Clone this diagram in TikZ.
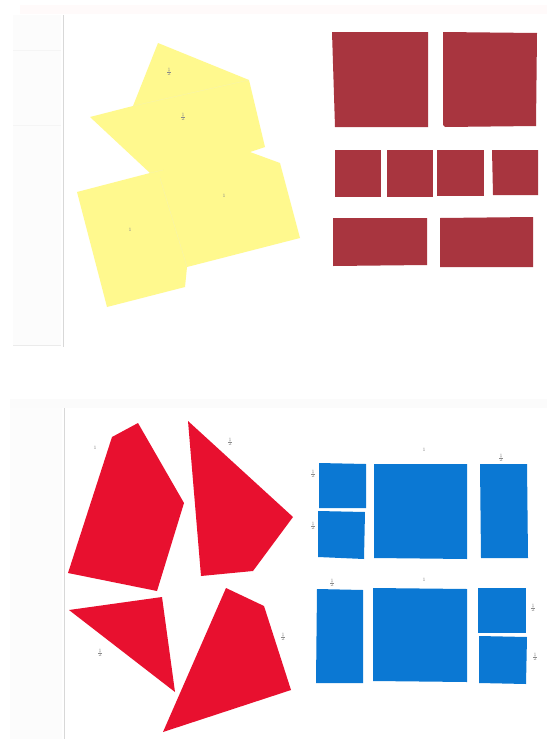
\documentclass[tikz,border=0pt]{standalone}
\definecolor{paperY}{HTML}{FFF98E}
\definecolor{maroon}{HTML}{A8353F}
\definecolor{brightred}{HTML}{E8102F}
\definecolor{paperB}{HTML}{0B78D3}
\definecolor{edge}{HTML}{D8D8D8}
\definecolor{hand}{HTML}{8A8A8A}
\begin{document}
\begin{tikzpicture}[x=1pt,y=-1pt,
  lbl/.style={text=hand,font=\fontsize{5}{6}\selectfont,inner sep=0pt},
  yel/.style={fill=paperY,draw=none},
  crease/.style={draw=paperY!85!black!40!white,line width=0.4pt,opacity=0.5},
  mar/.style={fill=maroon,draw=none},
  rd/.style={fill=brightred,draw=none},
  bl/.style={fill=paperB,draw=none}]
\useasboundingbox (0,0) rectangle (547,739);
\fill[white] (0,0) rectangle (547,739);
% ---- sheets ----
\fill[red!2] (20,5) rectangle (547,14);
\fill[black!1] (13,15) rectangle (61,345);
\draw[edge,line width=0.8pt] (63,15) -- (63,347);
\draw[black!8,line width=0.5pt] (13,345) -- (61,345);
\draw[black!4,line width=0.4pt] (13,50) -- (61,50);
\draw[black!4,line width=0.4pt] (13,125) -- (61,125);
\fill[yellow!2!black!2] (10,399) rectangle (547,408);
\fill[black!1] (10,408) rectangle (62,739);
\draw[edge,line width=0.8pt] (64,408) -- (64,739);
% ---- yellow pieces ----
\fill[yel] (90,117) -- (133,106) -- (158,43) -- (249,80) -- (265,147) -- (250,152)
  -- (280,163) -- (300,238) -- (187,267) -- (185,287) -- (107,307) -- (77,192)
  -- (150,173) -- cycle;
\draw[crease] (249,80) -- (133,106);
\draw[crease] (150,173) -- (163,170);
\draw[crease] (160,178) -- (187,267);
\node[lbl] (y1) at (169,72) {$\frac12$};
\node[lbl] (y2) at (183,117) {$\frac12$};
\node[lbl] (y3) at (224,196) {1};
\node[lbl] (y4) at (130,230) {1};
% ---- maroon squares ----
\fill[mar] (332,32) -- (428,32) -- (428,127) -- (335,127) -- cycle;
\fill[mar] (443,32) -- (537,33) -- (536,126) -- (445,127) -- (443,125) -- cycle;
\fill[mar] (335,150) rectangle (381,197);
\fill[mar] (387,150) rectangle (433,197);
\fill[mar] (437,150) rectangle (484,196);
\fill[mar] (492,150) -- (538,150) -- (538,195) -- (493,195) -- cycle;
\fill[mar] (333,218) -- (427,218) -- (427,265) -- (333,266) -- cycle;
\fill[mar] (440,218) -- (533,217) -- (533,267) -- (440,267) -- cycle;
% ---- bright red pieces ----
\fill[rd] (112,437) -- (138,423) -- (184,503) -- (157,591) -- (68,573) -- cycle;
\fill[rd] (188,421) -- (293,517) -- (253,571) -- (201,576) -- cycle;
\fill[rd] (69,610) -- (162,597) -- (175,692) -- cycle;
\fill[rd] (226,588) -- (264,606) -- (291,690) -- (163,732) -- cycle;
\node[lbl] (r1) at (95,448) {1};
\node[lbl] (r2) at (230,442) {$\frac12$};
\node[lbl] (r3) at (100,653) {$\frac12$};
\node[lbl] (r4) at (283,637) {$\frac12$};
% ---- blue pieces ----
\fill[bl] (319,463) -- (366,464) -- (366,508) -- (319,508) -- cycle;
\fill[bl] (318,511) -- (365,512) -- (364,559) -- (318,557) -- cycle;
\fill[bl] (374,464) -- (467,464) -- (467,559) -- (374,558) -- cycle;
\fill[bl] (480,464) -- (527,464) -- (528,558) -- (481,558) -- cycle;
\fill[bl] (317,589) -- (363,590) -- (363,683) -- (316,683) -- cycle;
\fill[bl] (373,588) -- (467,589) -- (467,682) -- (373,681) -- cycle;
\fill[bl] (478,588) -- (526,588) -- (526,633) -- (478,633) -- cycle;
\fill[bl] (479,636) -- (527,637) -- (526,684) -- (479,683) -- cycle;
\node[lbl] (b1) at (313,474) {$\frac12$};
\node[lbl] (b2) at (313,526) {$\frac12$};
\node[lbl] (b3) at (424,450) {1};
\node[lbl] (b4) at (501,458) {$\frac12$};
\node[lbl] (b5) at (332,583) {$\frac12$};
\node[lbl] (b6) at (424,580) {1};
\node[lbl] (b7) at (533,608) {$\frac12$};
\node[lbl] (b8) at (535,657) {$\frac12$};
\end{tikzpicture}
\end{document}
